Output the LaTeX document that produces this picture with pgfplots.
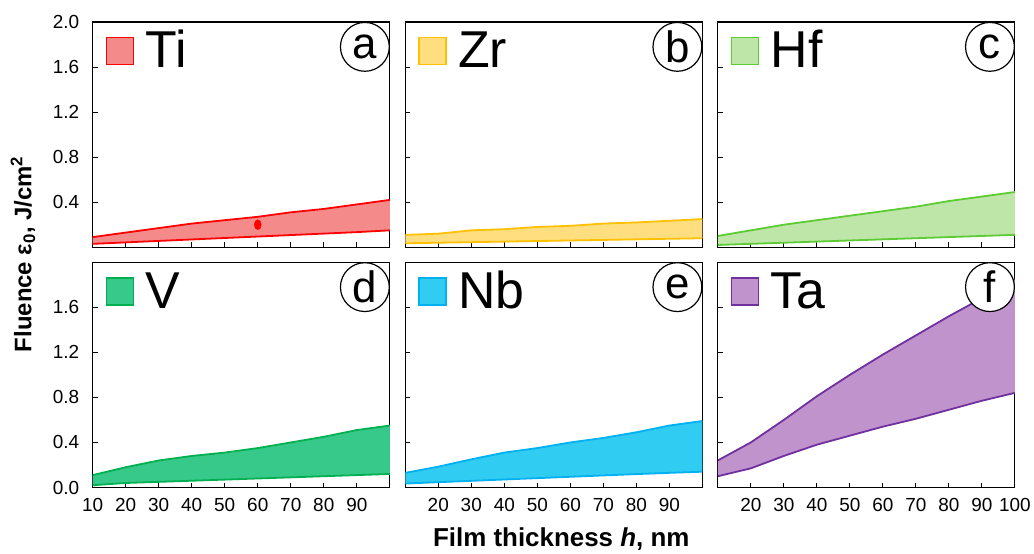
\documentclass[border=0pt]{standalone}
\usepackage{fontspec}
\setmainfont{Liberation Sans}
\usepackage{pgfplots}
\pgfplotsset{compat=1.18}
\usepackage{pgfplotstable}
\usepgfplotslibrary{fillbetween}

% line and fill colours of the six metals
\definecolor{TiL}{HTML}{FF0000}\definecolor{TiF}{HTML}{F58A8A}
\definecolor{ZrL}{HTML}{FFC000}\definecolor{ZrF}{HTML}{FFDE80}
\definecolor{HfL}{HTML}{5CCB34}\definecolor{HfF}{HTML}{BDE6A8}
\definecolor{VL}{HTML}{00B050}\definecolor{VF}{HTML}{36C98A}
\definecolor{NbL}{HTML}{00B0F0}\definecolor{NbF}{HTML}{30CCF2}
\definecolor{TaL}{HTML}{7030A0}\definecolor{TaF}{HTML}{C193CD}

% fluence window (lower and upper bound) versus film thickness
\pgfplotstableread{
h   lo    hi
10  0.030 0.090
20  0.043 0.130
30  0.056 0.170
40  0.069 0.210
50  0.082 0.240
60  0.095 0.270
70  0.108 0.310
80  0.121 0.340
90  0.134 0.380
100 0.150 0.420
}\dataTi
\pgfplotstableread{
h   lo    hi
10  0.035 0.110
20  0.040 0.120
30  0.045 0.150
40  0.050 0.160
50  0.055 0.180
60  0.060 0.190
70  0.065 0.210
80  0.070 0.220
90  0.075 0.235
100 0.080 0.250
}\dataZr
\pgfplotstableread{
h   lo    hi
10  0.020 0.100
20  0.030 0.150
30  0.040 0.200
40  0.050 0.240
50  0.060 0.280
60  0.070 0.320
70  0.080 0.360
80  0.090 0.410
90  0.100 0.450
100 0.110 0.490
}\dataHf
\pgfplotstableread{
h   lo    hi
10  0.020 0.110
20  0.040 0.180
30  0.050 0.240
40  0.060 0.280
50  0.070 0.310
60  0.080 0.350
70  0.090 0.400
80  0.100 0.450
90  0.110 0.510
100 0.120 0.550
}\dataV
\pgfplotstableread{
h   lo    hi
10  0.035 0.130
20  0.047 0.185
30  0.059 0.250
40  0.071 0.310
50  0.083 0.350
60  0.095 0.400
70  0.107 0.440
80  0.119 0.490
90  0.130 0.550
100 0.140 0.590
}\dataNb
\pgfplotstableread{
h   lo    hi
10  0.100 0.240
20  0.170 0.400
30  0.280 0.600
40  0.380 0.810
50  0.460 1.000
60  0.540 1.180
70  0.610 1.350
80  0.690 1.520
90  0.770 1.680
100 0.840 1.850
}\dataTa

\pgfplotsset{
  panel/.style={
    scale only axis, width=298pt, height=226pt, anchor=south west,
    xmin=10, xmax=100, ymin=0, ymax=2,
    xtick={10,20,30,40,50,60,70,80,90,100},
    ytick={0,0.4,0.8,1.2,1.6,2.0},
    xticklabels={}, yticklabels={},
    tick align=inside, xtick pos=bottom, ytick pos=left,
    major tick length=5pt, tick style={black, line width=0.8pt},
    axis line style={black, line width=1.2pt},
    ticklabel style={font=\fontsize{19}{19}\selectfont},
    xticklabel style={yshift=-7pt},
    yticklabel style={xshift=-10pt},
    /pgf/number format/assume math mode=true,
    clip mode=individual,
    set layers,
  },
  band/.style={line width=1.8pt, draw=#1L},
}

% one panel: data table, colour prefix
\newcommand\band[2]{%
  \addplot[band=#2, name path=up] table[x=h, y=hi]{#1};
  \addplot[band=#2, name path=down] table[x=h, y=lo]{#1};
  \addplot[fill=#2F] fill between[of=up and down];
}
% key square, metal name and panel letter
\newcommand\tags[3]{%
  \node[draw=#1L, fill=#1F, line width=1.6pt, minimum size=27pt, inner sep=0pt,
        anchor=north west] at ([xshift=13pt,yshift=-15pt]rel axis cs:0,1) {};
  \node[anchor=base west, inner sep=0pt, font=\fontsize{52}{52}\selectfont]
        at ([xshift=53pt,yshift=-46pt]rel axis cs:0,1) {#2};
  \node[circle, draw=black, fill=white, line width=1.2pt, minimum size=49pt,
        inner sep=0pt, outer sep=0pt, anchor=center, font=\fontsize{44}{44}\selectfont]
        at ([xshift=-25pt,yshift=-25pt]rel axis cs:1,1) {#3};
}

\begin{document}
\begin{tikzpicture}
\path (0pt,0pt) rectangle (1034pt,553pt);

% top row
\begin{axis}[panel, at={(93pt,305pt)}, yticklabels={,0.4,0.8,1.2,1.6,2.0}]
  \band{\dataTi}{Ti}
  \addplot[only marks, mark=*, mark size=5pt, mark options={TiL, xscale=0.7}]
    coordinates {(60,0.20)};
  \tags{Ti}{Ti}{a}
\end{axis}
\begin{axis}[panel, at={(406.5pt,305pt)}]
  \band{\dataZr}{Zr}
  \tags{Zr}{Zr}{b}
\end{axis}
\begin{axis}[panel, at={(720pt,305pt)}]
  \band{\dataHf}{Hf}
  \tags{Hf}{Hf}{c}
\end{axis}

% bottom row
\begin{axis}[panel, at={(93pt,64pt)}, yticklabels={0.0,0.4,0.8,1.2,1.6,},
    xticklabels={10,20,30,40,50,60,70,80,90,}]
  \band{\dataV}{V}
  \tags{V}{V}{d}
\end{axis}
\begin{axis}[panel, at={(406.5pt,64pt)},
    xticklabels={,20,30,40,50,60,70,80,90,}]
  \band{\dataNb}{Nb}
  \tags{Nb}{Nb}{e}
\end{axis}
\begin{axis}[panel, at={(720pt,64pt)},
    xticklabels={,20,30,40,50,60,70,80,90,100}]
  \band{\dataTa}{Ta}
  \tags{Ta}{Ta}{f}
\end{axis}

% shared axis titles
\node[rotate=90, font=\bfseries\fontsize{24}{24}\selectfont]
  at (23pt,298pt) {Fluence ε\textsubscript{0}, J/cm\textsuperscript{2}};
\node[anchor=base, font=\bfseries\fontsize{26}{26}\selectfont]
  at (563pt,5pt) {Film thickness \textit{h}, nm};
\end{tikzpicture}
\end{document}
